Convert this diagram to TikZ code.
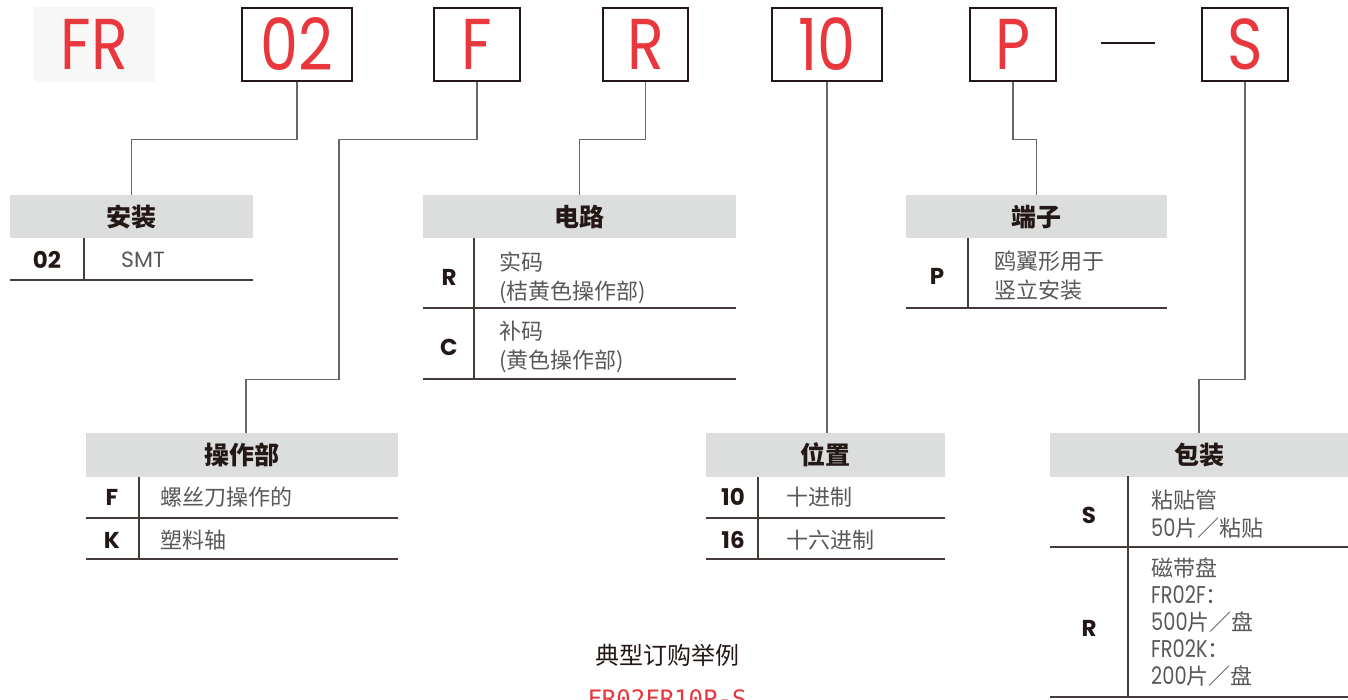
\documentclass[tikz,border=0pt]{standalone}
\usepackage{fontspec}
\newfontfamily\cjk{Noto Sans CJK SC}
\newfontfamily\lat{Poppins}
\newfontfamily\code[FakeStretch=0.84]{Poppins}
\newfontfamily\desclat[FakeStretch=0.8,Scale=1.1]{Poppins}
\newfontfamily\monofont{DejaVu Sans Mono}
\usepackage{tikz}
\usetikzlibrary{positioning}
\definecolor{codered}{HTML}{E8383D}
\definecolor{ink}{HTML}{231815}
\definecolor{txtgrey}{HTML}{595757}
\definecolor{hdgrey}{HTML}{DCDDDD}
\definecolor{bggrey}{HTML}{F7F7F7}
\definecolor{linegrey}{HTML}{6A6665}

\begin{document}
\begin{tikzpicture}[x=1pt,y=-1pt,
	codebox/.style={draw=ink,line width=2.4pt,inner sep=0pt,minimum height=73pt,text=codered,font=\code\fontsize{72}{72}\selectfont},
	hdcell/.style={fill=hdgrey,inner sep=0pt,minimum height=43pt,text=ink,font=\cjk\bfseries\fontsize{25}{30}\selectfont},
	keycell/.style={text=ink,inner sep=0pt,font=\lat\bfseries\fontsize{23}{28}\selectfont},
	desccell/.style={anchor=west,inner sep=0pt,align=left,text=txtgrey,font=\cjk\fontsize{22}{29}\selectfont},
	tabline/.style={draw=ink!85,line width=1.3pt},
	wire/.style={draw=linegrey,line width=1.3pt}]
		\useasboundingbox (0,0) rectangle (1348,700);
		%\draw [help lines,step=50] (0,0) grid (1348,700);
		
		% order code
		\node [fill=bggrey,minimum width=121pt,minimum height=75pt,inner sep=0pt,text=codered,font=\code\fontsize{72}{72}\selectfont] (fr) at (94.5,44.5) {FR};
		\node [codebox,minimum width=110pt] (b02) at (297,44.5) {02};
		\node [codebox,minimum width=86pt] (bF) at (477,44.5) {F};
		\node [codebox,minimum width=85pt] (bR) at (645.5,44.5) {R};
		\node [codebox,minimum width=110pt] (b10) at (827,44.5) {10};
		\node [codebox,minimum width=86pt] (bP) at (1013,44.5) {P};
		\node [codebox,minimum width=86pt] (bS) at (1245,44.5) {S};
		\draw [ink,line width=2.4pt] (1101,43) -- (1155,43);
		
		% mounting
		\node [hdcell,minimum width=243pt] (hdMount) at (131.5,217) {安装};
		\node [keycell] (kMount) at (47,260) {02};
		\node [desccell,font=\lat\fontsize{22}{29}\selectfont] (dMount) at (121,260) {SMT};
		\draw [tabline] (84,238) -- (84,280) (10,280) -- (253,280);
		
		% circuit
		\node [hdcell,minimum width=313pt] (hdCirc) at (579.5,217) {电路};
		\node [keycell] (kCircR) at (449,277) {R};
		\node [desccell] (dCircR) at (499,277.5) {实码\\(桔黄色操作部)};
		\node [keycell] (kCircC) at (449,347) {C};
		\node [desccell] (dCircC) at (499,347) {补码\\(黄色操作部)};
		\draw [tabline] (474,238) -- (474,379) (423,308) -- (736,308) (423,379) -- (736,379);
		
		% terminal
		\node [hdcell,minimum width=261pt] (hdTerm) at (1036.5,217) {端子};
		\node [keycell] (kTermP) at (937,276) {P};
		\node [desccell] (dTermP) at (994,276) {鸥翼形用于\\竖立安装};
		\draw [tabline] (968,238) -- (968,308) (906,308) -- (1167,308);
		
		% actuator
		\node [hdcell,minimum width=312pt,minimum height=44pt] (hdOp) at (242,455) {操作部};
		\node [keycell] (kOpF) at (112,497) {F};
		\node [desccell] (dOpF) at (160,497) {螺丝刀操作的};
		\node [keycell] (kOpK) at (112,540) {K};
		\node [desccell] (dOpK) at (160,540) {塑料轴};
		\draw [tabline] (139,477) -- (139,559) (86,518) -- (398,518) (86,559) -- (398,559);
		
		% positions
		\node [hdcell,minimum width=239pt,minimum height=44pt] (hdPos) at (825.5,455) {位置};
		\node [keycell] (kPos10) at (733,497) {10};
		\node [desccell] (dPos10) at (786,497) {十进制};
		\node [keycell] (kPos16) at (733,540) {16};
		\node [desccell] (dPos16) at (786,540) {十六进制};
		\draw [tabline] (758,477) -- (758,559) (706,518) -- (945,518) (706,559) -- (945,559);
		
		% packing
		\node [hdcell,minimum width=298pt,minimum height=44pt] (hdPack) at (1199,455) {包装};
		\node [keycell] (kPackS) at (1089,515) {S};
		\node [desccell,font=\cjk\fontsize{22}{28}\selectfont] (dPackS) at (1151,514) {粘贴管\\{\desclat 50}片／粘贴};
		\node [keycell] (kPackR) at (1089,628) {R};
		\node [desccell,font=\cjk\fontsize{22}{27}\selectfont] (dPackR) at (1151,622) {磁带盘\\{\desclat FR02F}：\\{\desclat 500}片／盘\\{\desclat FR02K}：\\{\desclat 200}片／盘};
		\draw [tabline] (1128,476) -- (1128,697) (1050,547) -- (1348,547) (1050,697) -- (1348,697);
		
		% leaders
		\draw [wire] (b02.south) -- ++(0,57) -| (hdMount.north);
		\draw [wire] (bF.south) -- ++(0,57) -| ++(-138,240) -| ([xshift=4pt]hdOp.north);
		\draw [wire] (bR.south) -- ++(0,57) -| (hdCirc.north);
		\draw [wire] (b10.south) -- (b10.south |- hdPos.north);
		\draw [wire] (bP.south) -- ++(0,57) -| (hdTerm.north);
		\draw [wire] (bS.south) -- ++(0,297) -| (hdPack.north);
		
		% example
		\node [text=ink,font=\cjk\fontsize{24}{28}\selectfont] (exTitle) at (667,655) {典型订购举例};
		\node [anchor=base,text=codered,font=\monofont\fontsize{24}{28}\selectfont] (exCode) at (667,707.5) {FR02FR10P-S};
	\end{tikzpicture}
\end{document}
